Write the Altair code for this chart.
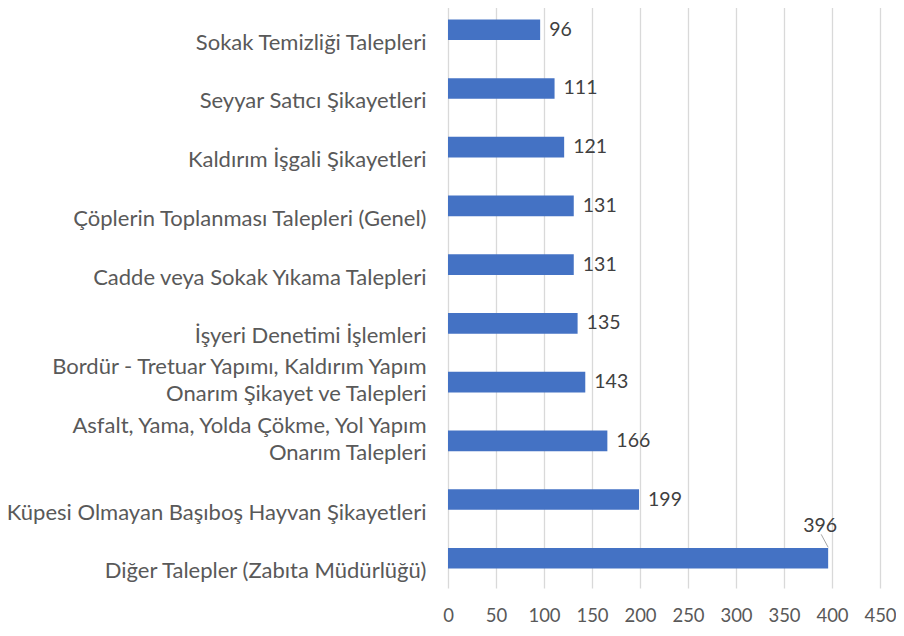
import altair as alt
import pandas as pd

categories = [
    "Sokak Temizliği Talepleri",
    "Seyyar Satıcı Şikayetleri",
    "Kaldırım İşgali Şikayetleri",
    "Çöplerin Toplanması Talepleri (Genel)",
    "Cadde veya Sokak Yıkama Talepleri",
    "İşyeri Denetimi İşlemleri",
    "Bordür - Tretuar Yapımı, Kaldırım Yapım|Onarım Şikayet ve Talepleri",
    "Asfalt, Yama, Yolda Çökme, Yol Yapım|Onarım Talepleri",
    "Küpesi Olmayan Başıboş Hayvan Şikayetleri",
    "Diğer Talepler (Zabıta Müdürlüğü)",
]
values = [96, 111, 121, 131, 131, 135, 143, 166, 199, 396]
x_ticks = [0, 50, 100, 150, 200, 250, 300, 350, 400, 450]

df = pd.DataFrame({"cat": categories, "val": values})

FONT = "Lato"
TXT = "#595959"

y_enc = alt.Y(
    "cat:N",
    sort=categories,
    title=None,
    scale=alt.Scale(paddingInner=0.65, paddingOuter=0.33),
    axis=alt.Axis(
        labelExpr="split(datum.label, '|')",
        labelFontSize=22,
        labelFont=FONT,
        labelColor=TXT,
        labelPadding=22,
        labelLineHeight=27,
        labelOffset={
            "condition": {"test": "indexof(datum.value, '|') >= 0", "value": -15},
            "value": 13,
        },
        ticks=False,
        domain=False,
        grid=False,
        labelLimit=500,
    ),
)

x_enc = alt.X(
    "val:Q",
    title=None,
    scale=alt.Scale(domain=[0, 450], nice=False),
    axis=alt.Axis(
        values=x_ticks,
        labelFontSize=18.5,
        labelFont=FONT,
        labelColor=TXT,
        labelPadding=18,
        labelFlush=False,
        ticks=False,
        domain=False,
        grid=True,
        gridColor="#d9d9d9",
        gridWidth=1.3,
    ),
)

base = alt.Chart(df)

bars = base.mark_bar(color="#4472C4").encode(x=x_enc, y=y_enc)

labels = base.transform_filter("datum.val < 300").mark_text(
    align="left", baseline="middle", dx=9, fontSize=19.5, font=FONT, color="#404040"
).encode(x="val:Q", y=alt.Y("cat:N", sort=categories), text="val:Q")

big_label = base.transform_filter("datum.val >= 300").mark_text(
    align="center", baseline="middle", dx=-8, dy=-32, fontSize=19.5, font=FONT, color="#404040"
).encode(x="val:Q", y=alt.Y("cat:N", sort=categories), text="val:Q")

leader = base.transform_filter("datum.val >= 300").mark_rule(
    color="#a6a6a6", strokeWidth=1, xOffset=-7, x2Offset=0, yOffset=-24, y2Offset=-11
).encode(
    x="val:Q",
    x2="val:Q",
    y=alt.Y("cat:N", sort=categories),
    y2="cat:N",
)

chart = alt.layer(bars, labels, big_label, leader).properties(
    width=432,
    height=588,
    padding={"left": 440, "top": -8, "right": 16, "bottom": 40},
    autosize=alt.AutoSizeParams(type="none"),
).configure_view(stroke=None)

chart.save("out.html", embed_options={"renderer": "svg", "actions": False})
